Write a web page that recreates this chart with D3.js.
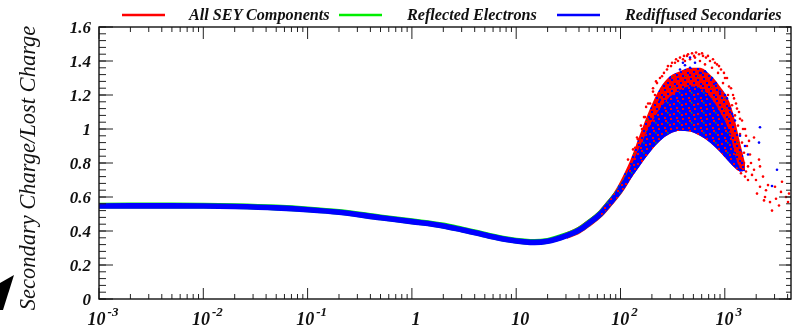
<!DOCTYPE html>
<html><head><meta charset="utf-8">
<script src="https://cdn.jsdelivr.net/npm/d3@7"></script>
<style>html,body{margin:0;padding:0;background:#fff;overflow:hidden}</style>
</head><body>
<svg id="c" width="792" height="329"></svg>
<script>
// ---- data ----
const bandE = [0.001, 0.002, 0.005, 0.01, 0.02, 0.05, 0.1, 0.2, 0.5, 1, 2, 3, 5, 8, 12, 15, 20, 30, 40, 50, 64, 79, 99, 123];
const bandY = [0.547, 0.548, 0.548, 0.547, 0.544, 0.536, 0.525, 0.51, 0.478, 0.455, 0.43, 0.407, 0.376, 0.35, 0.336, 0.333, 0.34, 0.372, 0.405, 0.447, 0.5, 0.565, 0.64, 0.735];
const cloudE   = [64, 79, 99, 123, 154, 192, 239, 298, 372, 464, 579, 721, 900, 1122, 1253, 1399, 1562];
const cloudLow = [0.482, 0.545, 0.615, 0.70, 0.785, 0.865, 0.93, 0.972, 0.99, 0.985, 0.96, 0.92, 0.865, 0.80, 0.77, 0.75, 0.755];
const blueTop  = [0.518, 0.585, 0.67, 0.77, 0.9, 1.02, 1.12, 1.19, 1.23, 1.25, 1.24, 1.19, 1.1, 0.97, 0.85, 0.77, 0.76];
const redTop   = [0.52, 0.59, 0.69, 0.81, 0.97, 1.12, 1.24, 1.31, 1.34, 1.36, 1.36, 1.32, 1.25, 1.15, 1.05, 0.92, 0.8];
const redDots = [[214,1.2],[239,1.3],[261,1.33],[285,1.37],[312,1.39],[341,1.41],[372,1.42],[406,1.43],[444,1.44],[485,1.445],[530,1.45],[566,1.44],[618,1.43],[660,1.42],[721,1.4],[770,1.41],[842,1.38],[920,1.35],[1004,1.3],[1097,1.25],[1199,1.2],[1281,1.15],[1368,1.1],[1462,1.05],[1562,1.0],
  [415,1.4],[464,1.41],[518,1.42],[578,1.4],[646,1.38],[754,1.36],[861,1.33],[961,1.27],[1074,1.2],[1173,1.14],[1253,1.08],
  [1339,1.02],[1399,0.97],[1462,0.92],[1309,0.88],[1226,0.84],[1430,0.86],[1528,0.8],[1632,0.9],[1744,0.85],[1669,0.78],[1597,0.75],[1823,0.73],[1991,0.7],[1669,0.7],
  [2175,0.66],[2483,0.64],[2713,0.57],[3097,0.59],[3308,0.55],[3861,0.6],[3534,0.69],[2175,0.78],[1906,0.95],[2128,0.82],[2324,0.72],[2835,0.52],[2429,0.6],
  [192,1.15],[172,1.07],[161,1.0],[147,0.94],[138,0.89],[176,1.13],[205,1.22],[224,1.27],[4036,0.57],
  [118,0.82],[132,0.88],[144,0.95],[157,1.02],[168,1.07],[184,1.15],[205,1.24],[219,1.28],[250,1.31],[279,1.35],[305,1.37],[333,1.39],[356,1.4],
  [397,1.41],[434,1.43],[507,1.43],[605,1.445],[690,1.43],[805,1.39],[880,1.37],[982,1.33],[1050,1.3],[1147,1.24],[1226,1.18],[1309,1.12],[1399,1.06],[1495,1.0],[1597,0.96],[1706,0.93],[1528,0.86],[1783,0.8],[1906,0.76],[1562,0.72],[1430,0.74],[2036,0.62],[2376,0.58],[2596,0.67],[3029,0.66],[3457,0.63],[4127,0.62]];
const blueDots = [[2175,1.01],[2128,0.92],[3165,0.76],[2835,0.665],[1562,0.9],[1399,0.96],[1253,1.05],[1122,1.12],[1004,1.2],[578,1.33],[464,1.36],[372,1.35],[298,1.3],[646,1.34],[754,1.3],[900,1.22],[1669,0.85],[1462,0.8],[1339,0.78],[518,1.39],[415,1.375],[397,1.39],[464,1.42],[239,1.17],[192,1.06],[1173,1.09],[1050,1.18],[820,1.27]];
const legendLabels = ["All SEY Components", "Reflected Electrons", "Rediffused Secondaries"];
const xMajor = [0.001, 0.01, 0.1, 1, 10, 100, 1000];
const xLabelBase = ["10", "10", "10", "1", "10", "10", "10"];
const xLabelExp = ["-3", "-2", "-1", "", "", "2", "3"];
const yMajor = [0, 0.2, 0.4, 0.6, 0.8, 1, 1.2, 1.4, 1.6];
const yLabels = ["0", "0.2", "0.4", "0.6", "0.8", "1", "1.2", "1.4", "1.6"];

// ---- layout ----
const L = 99, R = 791, T = 27, B = 299;
const RED = "#ff0000", GREEN = "#00ee00", BLUE = "#0000ff";
const FONT = "'Liberation Serif','Times New Roman',serif";
const svg = d3.select("#c");
const x = d3.scaleLog().domain([0.001, 4312]).range([L, R]);
const y = d3.scaleLinear().domain([0, 1.6]).range([B, T]);

const defs = svg.append("defs");
defs.append("clipPath").attr("id", "clip").append("rect").attr("x", L).attr("y", T).attr("width", R - L).attr("height", B - T);
defs.append("filter").attr("id", "soft").append("feGaussianBlur").attr("stdDeviation", 0.45);
const pr = defs.append("pattern").attr("id", "patRed").attr("patternUnits", "userSpaceOnUse").attr("width", 13).attr("height", 11);
pr.append("rect").attr("width", 13).attr("height", 11).attr("fill", RED);
[[1,1],[8,2],[4,5],[11,6],[6,9],[0,8]].forEach(p => pr.append("rect").attr("x", p[0]).attr("y", p[1]).attr("width", 2).attr("height", 2).attr("fill", BLUE));
pr.append("rect").attr("x", 9).attr("y", 10).attr("width", 1.5).attr("height", 1).attr("fill", "#208020");
const pb = defs.append("pattern").attr("id", "patBlue").attr("patternUnits", "userSpaceOnUse").attr("width", 12).attr("height", 10);
pb.append("rect").attr("width", 12).attr("height", 10).attr("fill", BLUE);
[[5,0],[1,3],[9,4],[4,7],[10,8]].forEach(p => pb.append("rect").attr("x", p[0]).attr("y", p[1]).attr("width", 2).attr("height", 2).attr("fill", RED));
pb.append("rect").attr("x", 7).attr("y", 2).attr("width", 1.5).attr("height", 1.5).attr("fill", "#209020");

const g = svg.append("g").attr("clip-path", "url(#clip)");
const gc = g.append("g").attr("filter", "url(#soft)");
const band = bandE.map((e, i) => [e, bandY[i]]);
const cloud = cloudE.map((e, i) => ({e, lo: cloudLow[i], b: blueTop[i], r: redTop[i]}));
const line = d3.line().x(d => x(d[0])).y(d => y(d[1])).curve(d3.curveMonotoneX);

// red (all components)
gc.append("path").attr("d", line(band.filter(d => d[0] >= 30))).attr("fill", "none").attr("stroke", RED).attr("stroke-width", 6.6);
gc.append("path").attr("d", d3.area().x(d => x(d.e)).y0(d => y(d.lo)).y1(d => y(d.r)).curve(d3.curveMonotoneX)(cloud)).attr("fill", "url(#patRed)");
gc.selectAll(".rd").data(redDots).enter().append("circle").attr("cx", d => x(d[0])).attr("cy", d => y(d[1])).attr("r", 1.3).attr("fill", RED);
// green (reflected)
gc.append("path").attr("d", line(band)).attr("fill", "none").attr("stroke", GREEN).attr("stroke-width", 5.9).attr("transform", "translate(0,-0.4)");
// blue (rediffused)
gc.append("path").attr("d", line(band)).attr("fill", "none").attr("stroke", BLUE).attr("stroke-width", 5.6);
gc.append("path").attr("d", d3.area().x(d => x(d.e)).y0(d => y(d.lo)).y1(d => y(d.b)).curve(d3.curveMonotoneX)(cloud)).attr("fill", "url(#patBlue)");
gc.selectAll(".bd").data(blueDots).enter().append("circle").attr("cx", d => x(d[0])).attr("cy", d => y(d[1])).attr("r", 1.3).attr("fill", BLUE);

// ---- axes / frame ----
const allX = x.ticks();
const minorX = allX.filter(v => Math.abs(Math.log10(v) - Math.round(Math.log10(v))) > 1e-6);
const ax = svg.append("g").attr("stroke", "#222").attr("stroke-width", 1);
minorX.forEach(v => { ax.append("line").attr("x1", x(v)).attr("x2", x(v)).attr("y1", B).attr("y2", B - 5);
  ax.append("line").attr("x1", x(v)).attr("x2", x(v)).attr("y1", T).attr("y2", T + 5); });
xMajor.forEach(v => { ax.append("line").attr("x1", x(v)).attr("x2", x(v)).attr("y1", B).attr("y2", B - 11);
  ax.append("line").attr("x1", x(v)).attr("x2", x(v)).attr("y1", T).attr("y2", T + 12); });
const yMinor = d3.range(0, 1.6001, 0.04);
yMinor.forEach(v => { ax.append("line").attr("x1", L).attr("x2", L + 7).attr("y1", y(v)).attr("y2", y(v));
  ax.append("line").attr("x1", R).attr("x2", R - 5).attr("y1", y(v)).attr("y2", y(v)); });
yMajor.forEach(v => { ax.append("line").attr("x1", L).attr("x2", L + 14).attr("y1", y(v)).attr("y2", y(v));
  ax.append("line").attr("x1", R).attr("x2", R - 12).attr("y1", y(v)).attr("y2", y(v)); });
svg.append("rect").attr("x", L).attr("y", T).attr("width", R - L).attr("height", B - T).attr("fill", "none").attr("stroke", "#111").attr("stroke-width", 1.4);

// y tick labels
svg.selectAll(".yl").data(yMajor).enter().append("text").attr("x", 91).attr("y", d => y(d)).attr("dy", "0.36em")
  .attr("text-anchor", "end").attr("font-family", FONT).attr("font-weight", "bold").attr("font-style", "italic").attr("font-size", 17)
  .attr("fill", "#111").text((d, i) => yLabels[i]);
// x tick labels
xMajor.forEach((v, i) => {
  const t = svg.append("text").attr("x", x(v) + 4).attr("y", 325).attr("text-anchor", "middle").attr("font-family", FONT)
    .attr("font-weight", "bold").attr("font-style", "italic").attr("font-size", 18).attr("fill", "#111");
  t.append("tspan").text(xLabelBase[i]);
  if (xLabelExp[i]) t.append("tspan").attr("dy", -9).attr("dx", 2).attr("font-size", 13).text(xLabelExp[i]);
});
// y title
svg.append("text").attr("transform", "translate(35,168) rotate(-90)").attr("text-anchor", "middle").attr("font-family", FONT)
  .attr("font-style", "italic").attr("font-size", 22.5).attr("fill", "#111").text("Secondary Charge/Lost Charge");
// legend
const legColors = [RED, GREEN, BLUE];
const legLineX = [122, 339, 557];
const legTextX = [189, 407, 625];
legendLabels.forEach((s, i) => {
  svg.append("line").attr("x1", legLineX[i]).attr("x2", legLineX[i] + 43).attr("y1", 15).attr("y2", 15).attr("stroke", legColors[i]).attr("stroke-width", 2.5);
  svg.append("text").attr("x", legTextX[i]).attr("y", 20).attr("font-family", FONT).attr("font-weight", "bold").attr("font-style", "italic")
    .attr("font-size", 16.2).attr("fill", "#111").text(s);
});
// black arrow mark at lower left
svg.append("path").attr("d", "M0,283L14,275L3,310L0,310Z").attr("fill", "#000");
</script>
</body></html>
